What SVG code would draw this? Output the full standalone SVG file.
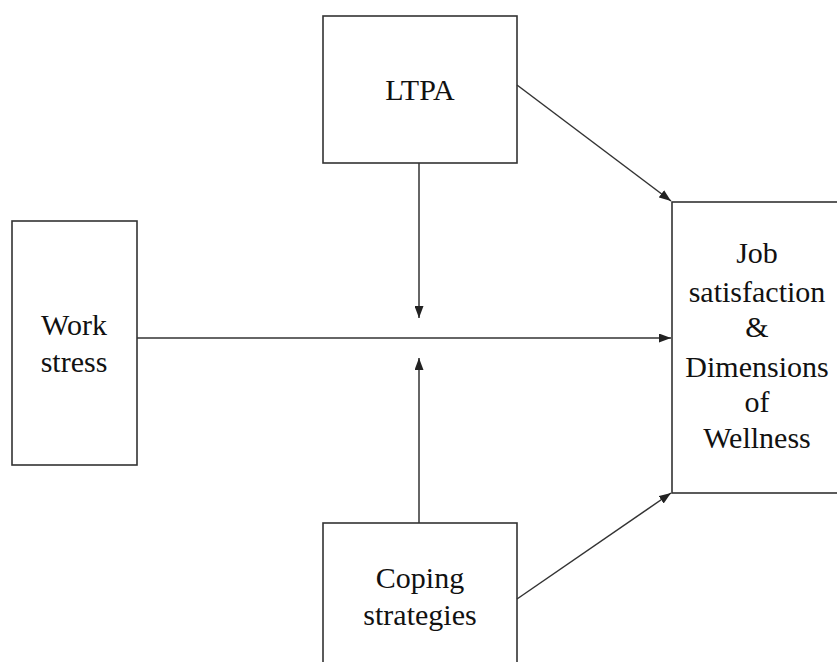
<svg xmlns="http://www.w3.org/2000/svg" width="837" height="662" viewBox="0 0 837 662">
<style>
.box{fill:#fff;stroke:#333;stroke-width:1.6}
.lbl{font-family:'Liberation Serif','DejaVu Serif',serif;font-size:30px;fill:#111;text-anchor:middle}
.con{stroke:#333;stroke-width:1.5;fill:none}
</style>
<defs>
<marker id="ah" viewBox="0 0 12 9" refX="12" refY="4.5" markerWidth="12" markerHeight="9" markerUnits="userSpaceOnUse" orient="auto">
<path d="M0,0 L12,4.5 L0,9 Z" fill="#222"/>
</marker>
</defs>
<rect width="837" height="662" fill="#fff"/>
<g id="ltpa">
<rect class="box" x="323" y="16" width="194" height="147"/>
<text class="lbl" x="420" y="100" font-family="Liberation Serif, serif">LTPA</text>
</g>
<g id="work">
<rect class="box" x="12" y="221" width="125" height="244"/>
<text class="lbl" x="74" y="335">Work</text>
<text class="lbl" x="74" y="372">stress</text>
</g>
<g id="coping">
<rect class="box" x="323" y="523" width="194" height="150"/>
<text class="lbl" x="420" y="588">Coping</text>
<text class="lbl" x="420" y="625">strategies</text>
</g>
<g id="job">
<rect class="box" x="672" y="202" width="180" height="291"/>
<text class="lbl" x="757" y="263">Job</text>
<text class="lbl" x="757" y="302">satisfaction</text>
<text class="lbl" x="757" y="337">&amp;</text>
<text class="lbl" x="757" y="377">Dimensions</text>
<text class="lbl" x="757" y="412">of</text>
<text class="lbl" x="757" y="448">Wellness</text>
</g>
<g id="connectors">
<line class="con" x1="137" y1="338" x2="671" y2="338" marker-end="url(#ah)"/>
<line class="con" x1="419" y1="163" x2="419" y2="318" marker-end="url(#ah)"/>
<line class="con" x1="419" y1="523" x2="419" y2="358" marker-end="url(#ah)"/>
<line class="con" x1="517" y1="85" x2="671" y2="201" marker-end="url(#ah)"/>
<line class="con" x1="517" y1="599" x2="671" y2="493" marker-end="url(#ah)"/>
</g>
</svg>
